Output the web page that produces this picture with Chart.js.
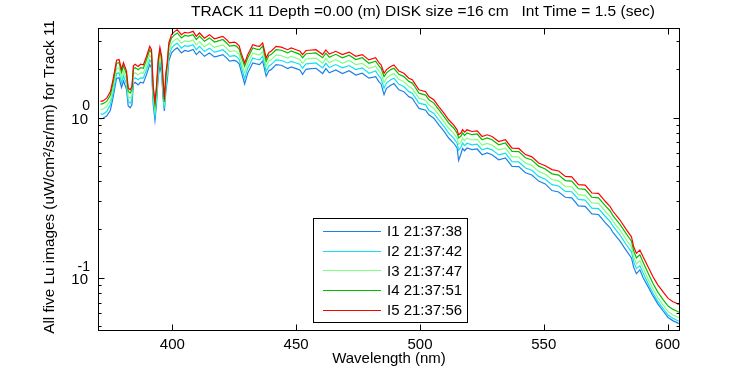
<!DOCTYPE html>
<html><head><meta charset="utf-8">
<script src="https://cdn.jsdelivr.net/npm/chart.js@4/dist/chart.umd.min.js"></script>
<style>html,body{margin:0;padding:0;background:#fff;}canvas{display:block;}</style>
</head><body>
<canvas id="c" width="750" height="375"></canvas>
<script>
const wavelengths = [371,372,373.5,375,376,377.5,378.5,379.5,380.3,381.5,
 382.2,383,383.7,384.3,385,386.2,387.2,388.3,389.6,390.9,
 391.6,392.3,393,393.6,394.3,395,395.7,396.3,396.8,397.4,
 398,398.6,399.7,401,402,403.7,405,406.5,408.4,409.7,
 411,413,415,417,418,420.4,422,423.1,425,425.8,
 427,427.8,429.2,430.5,432.5,434,435.2,436.5,437.9,439,
 439.9,441.9,444,446.6,448,450,451.5,452.6,454,455.3,
 458,460.7,462,463.4,466,468.7,471.4,474.1,476.7,479.4,
 482.1,483.5,484.3,485.5,486.5,488.2,489.5,491.5,493.5,495.5,
 496.9,498,499.6,502.3,503.6,505.6,507.6,509.6,511.6,513.6,
 515,515.6,516.5,517.2,518,519,521,523.1,525.1,527.1,
 529.1,531.8,534.5,537.2,539.9,542.6,545.2,547.9,550.6,553.3,
 556,558.7,561.3,564,566.7,569.4,572.1,574.8,576.8,578,
 580.7,583.4,585.4,586.3,587.4,588.8,590.1,592.1,594.1,596.1,
 598.1,600.2,602.2,603.2,604.5];

const I1 = [0.98,0.99,1.02,1.11,1.31,1.76,1.77,1.54,1.69,1.50,
 1.18,1.15,1.20,1.62,1.66,1.60,1.66,1.64,1.86,2.14,
 2.04,1.20,0.96,1.20,1.77,2.11,1.86,1.31,1.10,1.46,
 1.72,2.25,2.53,2.66,2.72,2.53,2.62,2.59,2.66,2.47,
 2.59,2.41,2.53,2.39,2.41,2.47,2.35,2.25,2.27,2.25,
 2.16,1.95,1.62,1.90,2.19,2.16,2.14,2.25,1.81,1.96,
 1.99,2.14,2.12,2.02,2.07,2.02,1.98,1.86,2.00,2.01,
 2.03,1.88,2.02,1.90,1.98,1.88,1.96,1.84,1.89,1.76,
 1.80,1.67,1.62,1.39,1.52,1.59,1.63,1.49,1.45,1.35,
 1.32,1.24,1.14,1.11,1.04,0.99,0.90,0.824,0.745,0.693,
 0.645,0.540,0.590,0.640,0.620,0.645,0.630,0.636,0.586,0.601,
 0.586,0.545,0.559,0.496,0.494,0.452,0.438,0.401,0.385,0.350,
 0.343,0.318,0.315,0.281,0.279,0.250,0.248,0.221,0.205,0.191,
 0.170,0.147,0.133,0.116,0.106,0.112,0.100,0.088,0.077,0.0685,
 0.0622,0.0565,0.0538,0.0530,0.0517];

const I2 = [1.05,1.05,1.09,1.20,1.40,1.88,1.90,1.65,1.82,1.61,
 1.26,1.23,1.29,1.73,1.77,1.72,1.77,1.76,1.99,2.29,
 2.19,1.29,1.03,1.29,1.90,2.26,1.99,1.40,1.14,1.56,
 1.85,2.41,2.71,2.85,2.91,2.71,2.81,2.78,2.85,2.65,
 2.78,2.58,2.71,2.56,2.58,2.65,2.52,2.41,2.43,2.41,
 2.31,2.09,1.75,2.04,2.35,2.31,2.29,2.41,1.94,2.10,
 2.14,2.29,2.27,2.19,2.24,2.19,2.15,2.03,2.16,2.17,
 2.19,2.04,2.18,2.05,2.14,2.04,2.11,1.99,2.04,1.89,
 1.95,1.81,1.75,1.52,1.64,1.72,1.76,1.61,1.56,1.45,
 1.42,1.34,1.23,1.20,1.11,1.06,0.965,0.883,0.799,0.743,
 0.691,0.625,0.650,0.693,0.668,0.691,0.675,0.681,0.628,0.644,
 0.628,0.584,0.599,0.531,0.528,0.484,0.469,0.429,0.412,0.381,
 0.374,0.346,0.344,0.308,0.305,0.272,0.270,0.242,0.224,0.209,
 0.185,0.160,0.145,0.126,0.114,0.119,0.107,0.092,0.080,0.0710,
 0.0644,0.0585,0.0557,0.0549,0.0535];

const I3 = [1.12,1.13,1.17,1.28,1.50,2.02,2.04,1.77,1.95,1.73,
 1.35,1.32,1.38,1.86,1.90,1.84,1.90,1.89,2.13,2.46,
 2.35,1.38,1.10,1.38,2.04,2.42,2.13,1.50,1.19,1.67,
 1.98,2.58,2.91,3.05,3.12,2.91,3.01,2.98,3.05,2.84,
 2.98,2.77,2.91,2.74,2.77,2.84,2.70,2.58,2.61,2.58,
 2.48,2.24,1.90,2.19,2.52,2.48,2.46,2.58,2.08,2.26,
 2.29,2.46,2.43,2.35,2.41,2.35,2.30,2.18,2.32,2.33,
 2.35,2.18,2.34,2.20,2.30,2.18,2.27,2.14,2.18,2.03,
 2.09,1.94,1.88,1.65,1.76,1.84,1.88,1.73,1.67,1.56,
 1.52,1.43,1.32,1.28,1.20,1.14,1.04,0.947,0.857,0.797,
 0.742,0.680,0.700,0.743,0.717,0.742,0.724,0.731,0.673,0.690,
 0.673,0.627,0.643,0.570,0.567,0.519,0.503,0.461,0.443,0.410,
 0.402,0.371,0.369,0.330,0.327,0.293,0.291,0.260,0.241,0.224,
 0.199,0.172,0.156,0.135,0.122,0.128,0.115,0.098,0.085,0.0748,
 0.0676,0.0614,0.0585,0.0577,0.0562];

const I4 = [1.21,1.22,1.26,1.38,1.62,2.18,2.20,1.91,2.10,1.86,
 1.46,1.42,1.49,2.01,2.05,1.99,2.05,2.03,2.30,2.65,
 2.53,1.49,1.20,1.49,2.20,2.62,2.30,1.62,1.25,1.80,
 2.14,2.79,3.14,3.29,3.37,3.14,3.25,3.22,3.29,3.07,
 3.22,2.99,3.14,2.96,2.99,3.07,2.91,2.79,2.82,2.79,
 2.67,2.42,2.09,2.36,2.72,2.67,2.65,2.79,2.24,2.44,
 2.47,2.65,2.63,2.53,2.60,2.53,2.48,2.36,2.50,2.51,
 2.53,2.36,2.52,2.38,2.48,2.36,2.45,2.30,2.36,2.18,
 2.25,2.09,2.03,1.80,1.90,1.99,2.03,1.86,1.80,1.68,
 1.64,1.55,1.42,1.38,1.29,1.23,1.12,1.02,0.924,0.860,
 0.800,0.745,0.764,0.802,0.774,0.800,0.781,0.789,0.727,0.745,
 0.727,0.676,0.693,0.615,0.612,0.561,0.543,0.497,0.477,0.445,
 0.437,0.404,0.401,0.359,0.356,0.318,0.315,0.282,0.261,0.243,
 0.216,0.187,0.169,0.147,0.133,0.139,0.125,0.107,0.092,0.081,
 0.0733,0.0665,0.0634,0.0625,0.0609];

const I5 = [1.26,1.27,1.32,1.45,1.70,2.28,2.30,2.00,2.20,1.95,
 1.53,1.49,1.56,2.10,2.15,2.08,2.15,2.13,2.41,2.78,
 2.65,1.56,1.26,1.56,2.30,2.74,2.41,1.70,1.30,1.89,
 2.24,2.92,3.29,3.45,3.53,3.29,3.40,3.37,3.45,3.21,
 3.37,3.13,3.29,3.10,3.13,3.21,3.05,2.92,2.95,2.92,
 2.80,2.53,2.19,2.47,2.85,2.80,2.78,2.92,2.35,2.55,
 2.59,2.78,2.75,2.65,2.72,2.65,2.60,2.47,2.62,2.63,
 2.65,2.47,2.64,2.49,2.59,2.47,2.56,2.41,2.47,2.29,
 2.36,2.19,2.13,1.89,1.99,2.08,2.13,1.95,1.89,1.76,
 1.72,1.62,1.49,1.45,1.35,1.29,1.17,1.07,0.968,0.900,
 0.838,0.780,0.800,0.840,0.810,0.838,0.818,0.826,0.761,0.780,
 0.761,0.708,0.726,0.644,0.641,0.587,0.568,0.520,0.500,0.473,
 0.464,0.429,0.426,0.381,0.378,0.338,0.336,0.300,0.278,0.259,
 0.230,0.199,0.180,0.156,0.142,0.149,0.135,0.117,0.1014,0.090,
 0.0818,0.0743,0.0708,0.0698,0.068];

const seriesNames = ['I1 21:37:38','I2 21:37:42','I3 21:37:47','I4 21:37:51','I5 21:37:56'];
const seriesColors = ['#1e80e6','#10e0f0','#80ff80','#00c000','#ff0000'];
const xTicks = [400,450,500,550,600];
const yMajorTicks = [0.1,1];
const yMajorExponents = ['-1','0'];
const yMinorTicks = [0.05,0.06,0.07,0.08,0.09,0.2,0.3,0.4,0.5,0.6,0.7,0.8,0.9,2,3];
const titleText = 'TRACK 11 Depth =0.00 (m) DISK size =16 cm   Int Time = 1.5 (sec)';
const xTitle = 'Wavelength (nm)';
const yTitle = 'All five Lu images (uW/cm\u00B2/sr/nm) for Track 11';

const FONT = '"Liberation Sans", Arial, Helvetica, sans-serif';

const matlabAxes = {
  id: 'matlabAxes',
  afterDraw(chart) {
    const ctx = chart.ctx, a = chart.chartArea, xs = chart.scales.x, ys = chart.scales.y;
    ctx.save();
    ctx.strokeStyle = '#000';
    ctx.lineWidth = 1;
    const L = Math.round(a.left) + 0.5, R = Math.round(a.right) - 0.5;
    const T = Math.round(a.top) + 0.5, B = Math.round(a.bottom) - 0.5;
    ctx.strokeRect(L, T, R - L, B - T);
    ctx.beginPath();
    xTicks.forEach(v => {
      const px = Math.round(xs.getPixelForValue(v)) + 0.5;
      ctx.moveTo(px, B); ctx.lineTo(px, B - 6);
      ctx.moveTo(px, T); ctx.lineTo(px, T + 6);
    });
    yMajorTicks.forEach(v => {
      const py = Math.round(ys.getPixelForValue(v)) + 0.5;
      ctx.moveTo(L, py); ctx.lineTo(L + 6, py);
      ctx.moveTo(R, py); ctx.lineTo(R - 6, py);
    });
    yMinorTicks.forEach(v => {
      const py = Math.round(ys.getPixelForValue(v)) + 0.5;
      ctx.moveTo(L, py); ctx.lineTo(L + 3, py);
      ctx.moveTo(R, py); ctx.lineTo(R - 3, py);
    });
    ctx.stroke();

    ctx.fillStyle = '#000';
    ctx.font = '15px ' + FONT;
    ctx.textAlign = 'center';
    ctx.textBaseline = 'middle';
    xTicks.forEach(v => ctx.fillText(String(v), xs.getPixelForValue(v), 345));

    yMajorTicks.forEach((v, i) => {
      const py = ys.getPixelForValue(v);
      ctx.font = '15px ' + FONT;
      ctx.textAlign = 'right';
      ctx.fillText('10', 88, py + 2);
      ctx.font = '14px ' + FONT;
      ctx.fillText(yMajorExponents[i], 90, py - 11);
    });

    ctx.font = '15px ' + FONT;
    ctx.textAlign = 'center';
    ctx.fillText(xTitle, (a.left + a.right) / 2, 359);
    ctx.font = '15.5px ' + FONT;
    ctx.fillText(titleText, 423, 12);

    ctx.save();
    ctx.font = '15.3px ' + FONT;
    ctx.translate(50, 177);
    ctx.rotate(-Math.PI / 2);
    ctx.fillText(yTitle, 0, 0);
    ctx.restore();

    // legend
    const bx = 313, by = 218, bw = 154, bh = 104;
    ctx.fillStyle = '#fff';
    ctx.fillRect(bx, by, bw, bh);
    ctx.strokeStyle = '#000';
    ctx.strokeRect(bx + 0.5, by + 0.5, bw, bh);
    ctx.textAlign = 'left';
    ctx.font = '15px ' + FONT;
    seriesNames.forEach((n, i) => {
      const y = 231 + i * 19.7;
      ctx.strokeStyle = seriesColors[i];
      ctx.beginPath();
      ctx.moveTo(323, Math.round(y) + 0.5);
      ctx.lineTo(381, Math.round(y) + 0.5);
      ctx.stroke();
      ctx.fillStyle = '#000';
      ctx.fillText(n, 387, y + 1);
    });
    ctx.restore();
  }
};

const allSeries = [I1, I2, I3, I4, I5];
new Chart(document.getElementById('c'), {
  type: 'line',
  data: {
    datasets: allSeries.map((s, i) => ({
      label: seriesNames[i],
      data: wavelengths.map((w, j) => ({ x: w, y: s[j] })),
      borderColor: seriesColors[i],
      borderWidth: 1.2,
      pointRadius: 0,
      tension: 0,
      fill: false,
      order: 4 - i
    }))
  },
  options: {
    responsive: false,
    animation: false,
    devicePixelRatio: 1,
    events: [],
    layout: { padding: { left: 98, right: 70, top: 28, bottom: 44 } },
    plugins: { legend: { display: false }, tooltip: { enabled: false }, title: { display: false } },
    scales: {
      x: { type: 'linear', min: 370, max: 605, display: false },
      y: { type: 'logarithmic', min: 0.0465, max: 3.62, display: false }
    }
  },
  plugins: [matlabAxes]
});
</script>
</body></html>
